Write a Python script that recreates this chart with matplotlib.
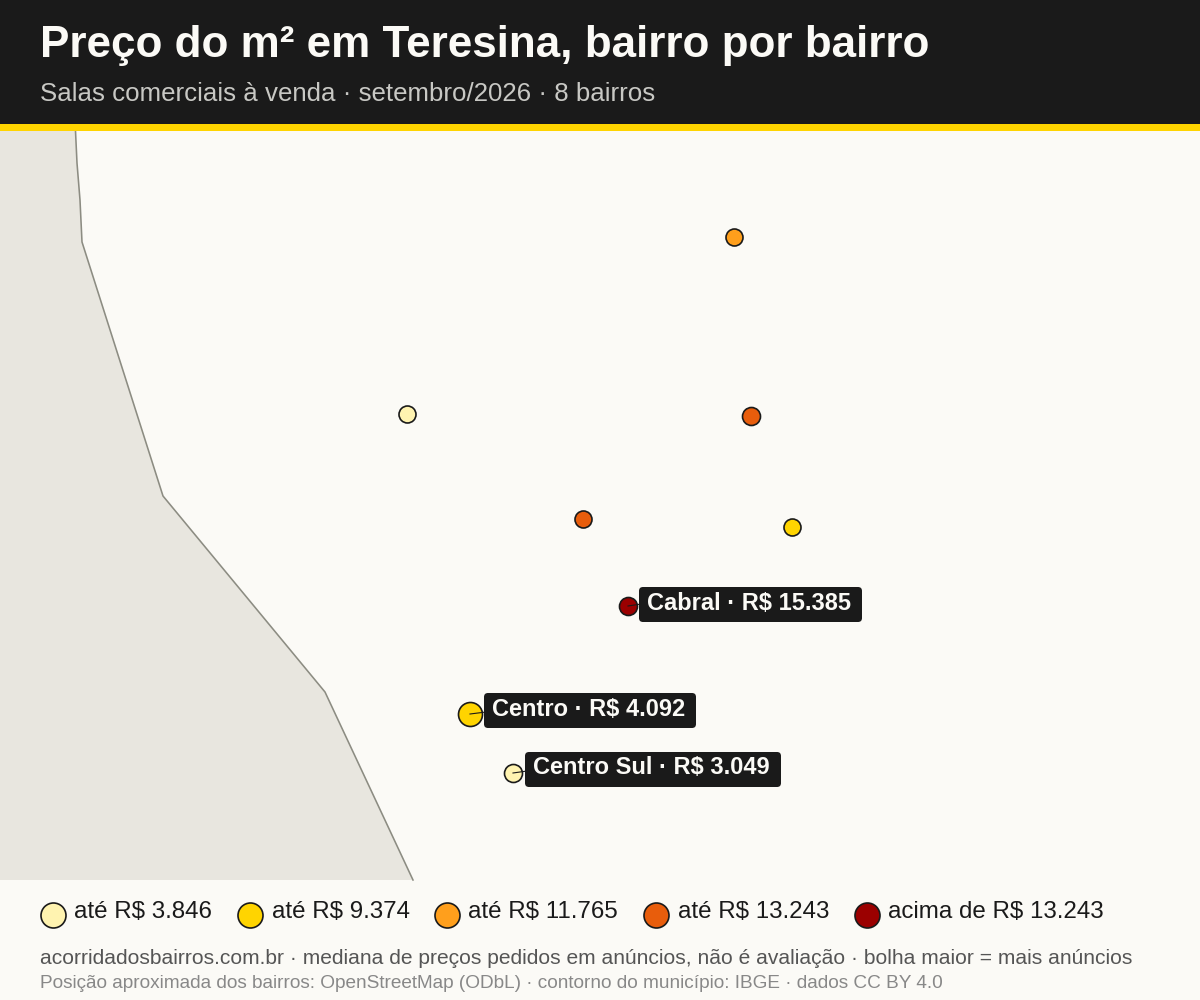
import matplotlib
matplotlib.use('Agg')
import matplotlib.pyplot as plt
from matplotlib.patches import Rectangle, Polygon, FancyBboxPatch

plt.rcParams['font.family'] = ['Liberation Sans', 'DejaVu Sans']

# Bairros sem rótulo e com rótulo (posição em pixels do mapa, raio, cor)
bairros_x = [734, 407, 751, 583, 792, 628, 470, 513]
bairros_y = [237, 414, 416, 519, 527, 606, 714, 773]
bairros_r = [8.5, 8.5, 9, 8.5, 8.5, 9, 12, 9]
bairros_cor = ['#FF9F1C', '#FFF3B0', '#E85D0C', '#E85D0C', '#FFD400', '#9B0000', '#FFD400', '#FFF3B0']

rotulos = ['Cabral · R$ 15.385', 'Centro · R$ 4.092', 'Centro Sul · R$ 3.049']
rotulos_x = [639, 484, 525]
rotulos_y = [587, 693, 752]
rotulos_w = [223, 212, 256]
rotulos_ponto = [5, 6, 7]

# Contorno do município (parte de fora do limite)
contorno_x = [75.5, 77, 80, 82, 163, 325, 413]
contorno_y = [131, 163, 200, 242, 496, 692, 880]

legenda_txt = ['até R$ 3.846', 'até R$ 9.374', 'até R$ 11.765', 'até R$ 13.243', 'acima de R$ 13.243']
legenda_cor = ['#FFF3B0', '#FFD400', '#FF9F1C', '#E85D0C', '#9B0000']
legenda_x = [53, 250, 447, 656, 867]

FUNDO = '#FBFAF6'
ESCURO = '#1A1A1A'

fig = plt.figure(figsize=(12, 10), dpi=100, facecolor=FUNDO)
ax = fig.add_axes([0, 0, 1, 1])
ax.set_xlim(0, 1200)
ax.set_ylim(1000, 0)
ax.axis('off')

# Área fora do município
pts = [(0, 131)] + list(zip(contorno_x, contorno_y)) + [(0, 880)]
ax.add_patch(Polygon(pts, closed=True, facecolor='#E8E6DF', edgecolor='none', zorder=1))
ax.plot(contorno_x, contorno_y, color='#8C8C82', lw=1.15, zorder=2)

# Cabeçalho
ax.add_patch(Rectangle((0, 0), 1200, 124, facecolor=ESCURO, edgecolor='none', zorder=5))
ax.add_patch(Rectangle((0, 124), 1200, 7, facecolor='#FFD400', edgecolor='none', zorder=5))
ax.text(40, 46, 'Preço do m² em Teresina, bairro por bairro', color=FUNDO, fontsize=31.7,
        fontweight='bold', va='center', ha='left', zorder=6)
ax.text(40, 94, 'Salas comerciais à venda · setembro/2026 · 8 bairros', color='#C8C8C4', fontsize=18.6,
        va='center', ha='left', zorder=6)

# Bolhas
for x, y, r, c in zip(bairros_x, bairros_y, bairros_r, bairros_cor):
    ax.scatter(x, y, s=(2 * r * 0.72) ** 2, color=c, edgecolor=ESCURO, linewidth=1.2, zorder=3)

# Rótulos
for txt, x, y, w, i in zip(rotulos, rotulos_x, rotulos_y, rotulos_w, rotulos_ponto):
    ax.plot([bairros_x[i], x + 2], [bairros_y[i], bairros_y[i] - 2], color=ESCURO, lw=0.8, zorder=4)
    ax.add_patch(FancyBboxPatch((x + 3, y + 3), w - 6, 29, boxstyle='round,pad=3,rounding_size=4',
                                facecolor=ESCURO, edgecolor='none', zorder=5))
    ax.text(x + 8, y + 16, txt, color=FUNDO, fontsize=17, fontweight='bold', va='center', ha='left', zorder=6)

# Legenda
for txt, x, c in zip(legenda_txt, legenda_x, legenda_cor):
    ax.scatter(x, 915, s=(25 * 0.72) ** 2, color=c, edgecolor=ESCURO, linewidth=1.2, zorder=3)
    ax.text(x + 21.5, 912, txt, color=ESCURO, fontsize=17.4, va='center', ha='left', zorder=3)

ax.text(40, 959, 'acorridadosbairros.com.br · mediana de preços pedidos em anúncios, não é avaliação · bolha maior = mais anúncios',
        color='#555555', fontsize=15.08, va='center', ha='left')
ax.text(40, 984, 'Posição aproximada dos bairros: OpenStreetMap (ODbL) · contorno do município: IBGE · dados CC BY 4.0',
        color='#888888', fontsize=13.7, va='center', ha='left')

fig.savefig('out.png', dpi=100, facecolor=FUNDO)
